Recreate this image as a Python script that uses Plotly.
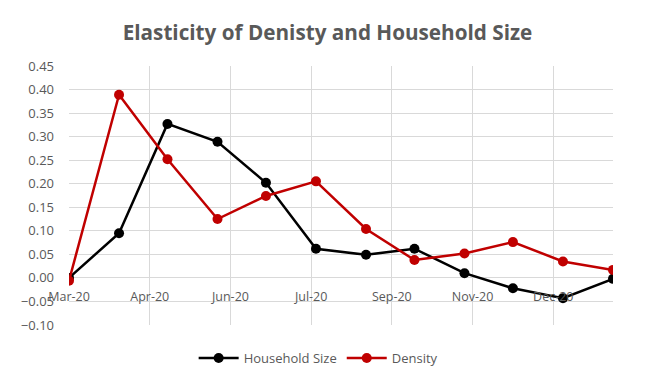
import plotly.graph_objects as go

months = ["2020-03-01", "2020-04-01", "2020-05-01", "2020-06-01", "2020-07-01", "2020-08-01",
          "2020-09-01", "2020-10-01", "2020-11-01", "2020-12-01", "2021-01-01", "2021-02-01"]
household_size = [0.000, 0.095, 0.327, 0.289, 0.202, 0.062, 0.049, 0.062, 0.010, -0.022, -0.043, -0.002]
density = [-0.006, 0.389, 0.252, 0.125, 0.174, 0.205, 0.104, 0.038, 0.052, 0.076, 0.035, 0.017]

grey = "#595959"
fig = go.Figure()
fig.add_trace(go.Scatter(x=months, y=household_size, name="Household Size", mode="lines+markers",
                         line=dict(color="#000000", width=2.5), marker=dict(size=10, color="#000000")))
fig.add_trace(go.Scatter(x=months, y=density, name="Density", mode="lines+markers",
                         line=dict(color="#C00000", width=2.5), marker=dict(size=10, color="#C00000")))

fig.update_layout(
    width=646, height=386,
    paper_bgcolor="white", plot_bgcolor="white",
    margin=dict(l=61, r=41, t=58, b=69),
    title=dict(text="<b>Elasticity of Denisty and Household Size</b>", x=0.4946, xanchor="center",
               y=0.935, yanchor="middle", font=dict(family="Open Sans", size=20.7, color=grey)),
    font=dict(family="Open Sans", color=grey, size=12),
    legend=dict(orientation="h", x=0.458, xanchor="center", y=-0.07, yanchor="top",
                font=dict(size=13, color=grey), itemwidth=40),
    showlegend=True,
)
fig.update_xaxes(
    type="date", range=["2020-03-01", "2021-02-01"],
    tick0="2020-03-01", dtick=50 * 86400000, tickformat="%b-%y",
    showgrid=True, gridcolor="#D9D9D9", gridwidth=1,
    showline=False, zeroline=False, ticks="",
    ticklabelstandoff=-38,
    tickfont=dict(size=12.5, color=grey),
)
fig.update_yaxes(
    range=[-0.10, 0.45], dtick=0.05, tickformat=".2f",
    showgrid=True, gridcolor="#D9D9D9", gridwidth=1,
    zeroline=True, zerolinecolor="#D9D9D9", zerolinewidth=1,
    showline=False, ticks="", ticklabelstandoff=14,
    tickfont=dict(size=13, color=grey),
)
fig.write_html("out.html")
